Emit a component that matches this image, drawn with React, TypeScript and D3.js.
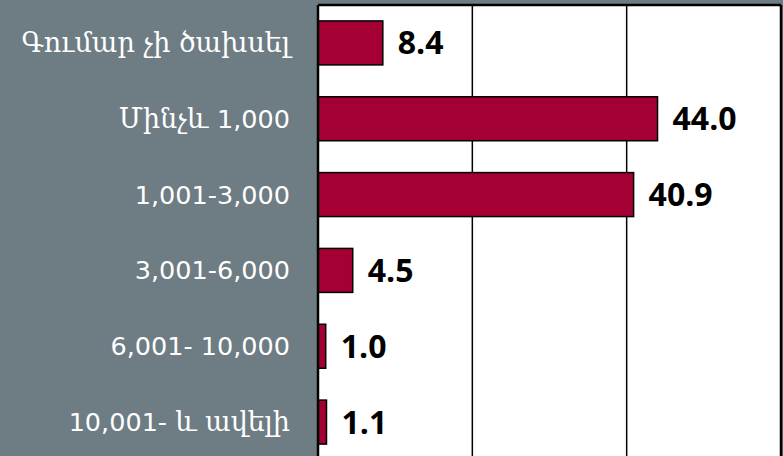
import React from "react";
import * as d3 from "d3";

const categories = [
  "Գումար չի ծախսել",
  "Մինչև 1,000",
  "1,001-3,000",
  "3,001-6,000",
  "6,001- 10,000",
  "10,001- և ավելի",
];
const values = [8.4, 44.0, 40.9, 4.5, 1.0, 1.1];
const gridTicks = [20, 40, 60];

const W = 783;
const H = 456;

function splitRuns(s: string) {
  const runs: { text: string; arm: boolean }[] = [];
  for (const ch of s) {
    const arm = /[\u0530-\u058F\uFB13-\uFB17]/.test(ch);
    const last = runs[runs.length - 1];
    if (last && (last.arm === arm || ch === " ")) last.text += ch;
    else runs.push({ text: ch, arm });
  }
  return runs;
}

export default function App() {
  const x = d3.scaleLinear().domain([0, 60]).range([318, 781]);
  const y = d3
    .scaleBand<string>()
    .domain(categories)
    .range([5, 460])
    .paddingInner(0.42)
    .paddingOuter(0.21);
  const bw = y.bandwidth();
  return (
    <svg
      width={W}
      height={H}
      style={{ position: "absolute", left: 0, top: 0, display: "block" }}
    >
      <rect x={0} y={0} width={W} height={H} fill="#6E7C83" />
      <rect x={x(0)} y={5} width={x(60) - x(0)} height={H} fill="#ffffff" />
      {gridTicks.map((t) => (
        <line
          key={t}
          x1={x(t)}
          x2={x(t)}
          y1={5}
          y2={H}
          stroke="#000"
          strokeWidth={t === 60 ? 2.5 : 1.5}
        />
      ))}
      <line x1={x(0)} x2={x(60)} y1={5} y2={5} stroke="#000" strokeWidth={2.5} />
      {categories.map((c, i) => (
        <rect
          key={c}
          x={x(0)}
          y={y(c)}
          width={x(values[i]) - x(0)}
          height={bw}
          fill="#A50034"
          stroke="#000"
          strokeWidth={1.5}
        />
      ))}
      <line x1={x(0)} x2={x(0)} y1={5} y2={H} stroke="#000" strokeWidth={2.5} />
      {categories.map((c) => (
        <text
          key={"l" + c}
          x={290}
          y={(y(c) as number) + bw / 2}
          dy="0.35em"
          textAnchor="end"
          fill="#ffffff"
          fontFamily="'DejaVu Sans', sans-serif"
          fontSize={25.5}
        >
          {splitRuns(c).map((r, k) => (
            <tspan
              key={k}
              fontFamily={r.arm ? "'DejaVu Serif', serif" : "'DejaVu Sans', sans-serif"}
              fontSize={r.arm ? 27 : 25.5}
            >
              {r.text}
            </tspan>
          ))}
        </text>
      ))}
      {categories.map((c, i) => (
        <text
          key={"v" + c}
          x={x(values[i]) + 15}
          y={(y(c) as number) + bw / 2}
          dy="0.36em"
          textAnchor="start"
          fill="#000"
          fontFamily="'Open Sans', sans-serif"
          fontWeight="bold"
          fontSize={32}
        >
          {values[i].toFixed(1)}
        </text>
      ))}
    </svg>
  );
}
